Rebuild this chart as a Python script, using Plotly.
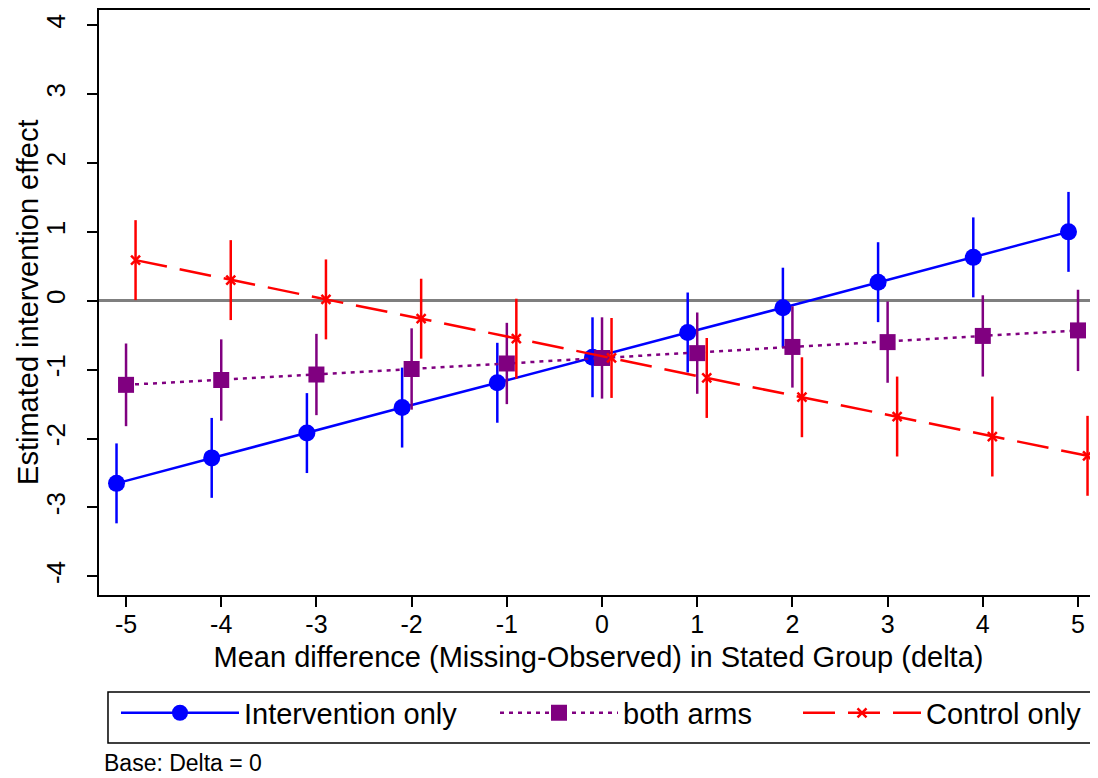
import plotly.graph_objects as go

# ---- data ----
x_interv = [-5.1, -4.1, -3.1, -2.1, -1.1, -0.1, 0.9, 1.9, 2.9, 3.9, 4.9]
x_both = [-5, -4, -3, -2, -1, 0, 1, 2, 3, 4, 5]
x_ctrl = [-4.9, -3.9, -2.9, -1.9, -0.9, 0.1, 1.1, 2.1, 3.1, 4.1, 5.1]

est_interv = [-2.65, -2.28, -1.92, -1.55, -1.19, -0.82, -0.46, -0.10, 0.27, 0.63, 1.00]
lo_interv = [-3.23, -2.86, -2.50, -2.13, -1.77, -1.40, -1.04, -0.68, -0.31, 0.05, 0.42]
hi_interv = [-2.07, -1.70, -1.34, -0.97, -0.61, -0.24, 0.12, 0.48, 0.85, 1.21, 1.58]

est_both = [-1.22, -1.15, -1.07, -0.99, -0.91, -0.83, -0.76, -0.67, -0.60, -0.51, -0.43]
lo_both = [-1.82, -1.74, -1.66, -1.58, -1.50, -1.42, -1.35, -1.26, -1.19, -1.10, -1.02]
hi_both = [-0.62, -0.56, -0.48, -0.40, -0.32, -0.24, -0.17, -0.08, -0.01, 0.08, 0.16]

est_ctrl = [0.59, 0.30, 0.02, -0.26, -0.55, -0.83, -1.12, -1.40, -1.68, -1.97, -2.25]
lo_ctrl = [0.01, -0.28, -0.56, -0.84, -1.13, -1.41, -1.70, -1.98, -2.26, -2.55, -2.83]
hi_ctrl = [1.17, 0.88, 0.60, 0.32, 0.03, -0.25, -0.54, -0.82, -1.10, -1.39, -1.67]

x_ticks = [-5, -4, -3, -2, -1, 0, 1, 2, 3, 4, 5]
x_ticktext = ["-5", "-4", "-3", "-2", "-1", "0", "1", "2", "3", "4", "5"]
y_ticks = [-4, -3, -2, -1, 0, 1, 2, 3, 4]
y_ticktext = ["-4", "-3", "-2", "-1", "0", "1", "2", "3", "4"]

FONT = "Liberation Sans, Arial, sans-serif"


def err(est, lo, hi, color):
    return dict(type="data", symmetric=False,
                array=[h - e for e, h in zip(est, hi)],
                arrayminus=[e - l for e, l in zip(est, lo)],
                color=color, thickness=2.5, width=0)


fig = go.Figure()
fig.add_trace(go.Scatter(
    x=x_interv, y=est_interv, name="Intervention only", mode="lines+markers",
    line=dict(color="#0000FF", width=2.5, dash="solid"),
    marker=dict(symbol="circle", size=17, color="#0000FF"),
    error_y=err(est_interv, lo_interv, hi_interv, "#0000FF"), legend="legend"))
fig.add_trace(go.Scatter(
    x=x_both, y=est_both, name="both arms", mode="lines+markers",
    line=dict(color="#800080", width=2.5, dash="4px,5px"),
    marker=dict(symbol="square", size=16, color="#800080"),
    error_y=err(est_both, lo_both, hi_both, "#800080"), legend="legend2"))
fig.add_trace(go.Scatter(
    x=x_ctrl, y=est_ctrl, name="Control only", mode="lines+markers",
    line=dict(color="#FF0000", width=2.5, dash="32px,13px"),
    marker=dict(symbol="x-thin", size=9, color="#FF0000",
                line=dict(color="#FF0000", width=2.5)),
    error_y=err(est_ctrl, lo_ctrl, hi_ctrl, "#FF0000"), legend="legend3"))


def leg(xpos):
    return dict(orientation="h", x=xpos, y=-0.158, xanchor="left", yanchor="top",
                borderwidth=0, bgcolor="rgba(0,0,0,0)", font=dict(size=29),
                itemwidth=118)


# page has an 8px body margin; figure is sized so the plot lands where the reference has it
fig.update_layout(
    width=1090, height=778,
    margin=dict(l=91, r=0, t=2, b=191),
    paper_bgcolor="white", plot_bgcolor="white",
    font=dict(family=FONT, size=28, color="black"),
    showlegend=True,
    legend=leg(0.017), legend2=leg(0.3964), legend3=leg(0.6997),
    xaxis=dict(range=[-5.284, 5.21], tickvals=x_ticks, ticktext=x_ticktext,
               ticks="outside", ticklen=10,
               tickwidth=1.5, tickcolor="black", showgrid=False, zeroline=False,
               showline=True, linecolor="black", linewidth=2, mirror=True,
               tickfont=dict(size=25), ticklabelstandoff=-4,
               title=dict(text="Mean difference (Missing-Observed) in Stated Group (delta)",
                          font=dict(size=29), standoff=10)),
    yaxis=dict(range=[-4.27, 4.22], tickvals=y_ticks, ticktext=y_ticktext,
               ticks="outside", ticklen=10,
               tickwidth=1.5, tickcolor="black", showgrid=False,
               zeroline=True, zerolinecolor="#7f7f7f", zerolinewidth=2.5,
               showline=True, linecolor="black", linewidth=2, mirror=False,
               tickangle=-90, tickfont=dict(size=26), ticklabelstandoff=12),
    shapes=[dict(type="rect", xref="paper", yref="paper",
                 x0=0.009, x1=0.999, y0=-0.253, y1=-0.1658,
                 line=dict(color="black", width=1.5), fillcolor="rgba(0,0,0,0)")],
)

fig.add_annotation(text="Estimated intervention effect", xref="paper", yref="paper",
                   x=-0.0711, y=0.501, xanchor="center", yanchor="middle",
                   textangle=-90, showarrow=False, font=dict(size=29))

fig.add_annotation(text="Base: Delta = 0", xref="paper", yref="paper",
                   x=0.004, y=-0.263, xanchor="left", yanchor="top", borderpad=0,
                   showarrow=False, font=dict(size=23))

fig.write_html("out.html")
